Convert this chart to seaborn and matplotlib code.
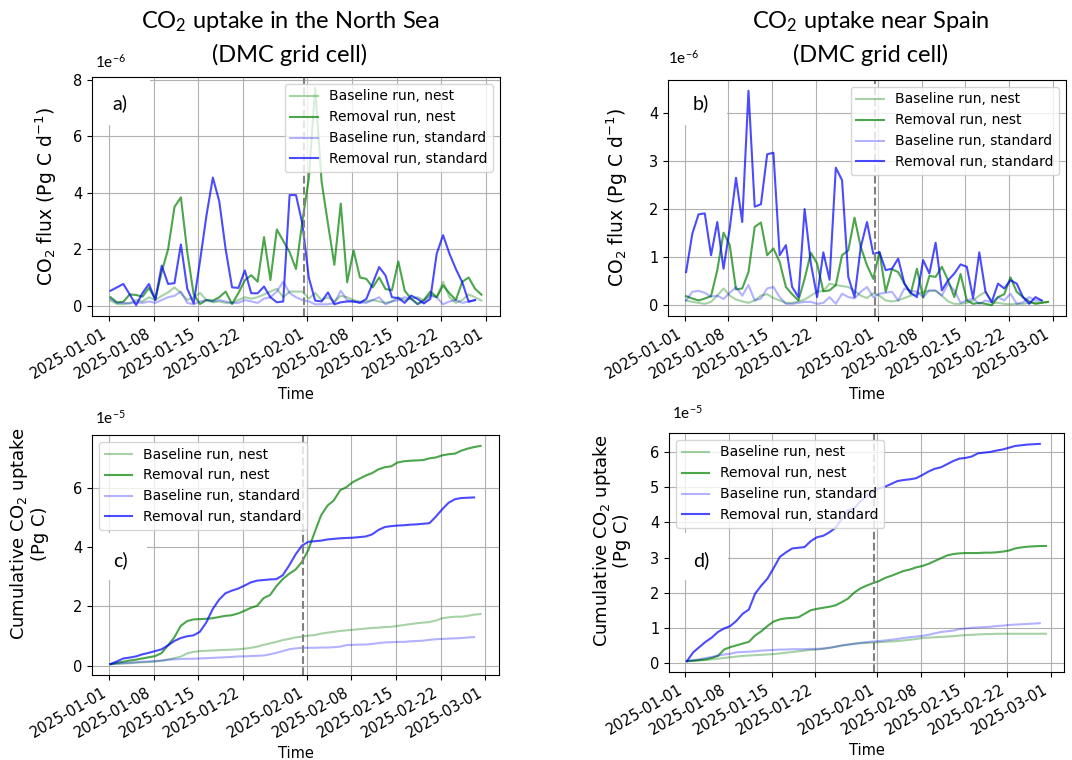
import pandas as pd
import matplotlib
matplotlib.use("Agg")
import matplotlib.pyplot as plt
import matplotlib.dates as mdates
from matplotlib.patches import Rectangle
import seaborn as sns

# ---- data ----
# flux values in 1e-6 Pg C / day, cumulative values in 1e-5 Pg C
flux_a_base_nest = [0.18, 0.06, 0.05, 0.1, 0.2, 0.15, 0.3, 0.2, 0.35, 0.47,
                    0.65, 0.45, 0.2, 0.3, 0.45, 0.2, 0.12, 0.15, 0.1, 0.1,
                    0.2, 0.3, 0.25, 0.3, 0.4, 0.5, 0.6, 0.3, 0.5, 0.5,
                    0.5, 0.25, 0.45, 0.2, 0.3, 0.15, 0.35, 0.3, 0.2, 0.15,
                    0.15, 0.2, 0.15, 0.1, 0.15, 0.3, 0.2, 0.25, 0.3, 0.2,
                    0.4, 0.3, 0.85, 0.3, 0.1, 0.2, 0.4, 0.3, 0.18]
flux_a_rem_nest = [0.30, 0.12, 0.14, 0.40, 0.38, 0.32, 0.63, 0.24, 1.2, 2.0,
                   3.5, 3.84, 1.9, 0.4, 0.06, 0.2, 0.18, 0.3, 0.5, 0.06,
                   0.45, 0.9, 1.08, 0.85, 2.43, 0.91, 2.7, 2.3, 1.9, 1.3,
                   3.0, 4.5, 7.72, 4.4, 2.9, 1.45, 3.62, 0.83, 1.96, 1.0,
                   0.95, 0.65, 1.0, 0.59, 0.55, 1.57, 0.53, 0.25, 0.06, 0.2,
                   0.5, 0.3, 0.72, 0.44, 0.2, 0.85, 1.0, 0.6, 0.39]
flux_a_base_std = [0.24, 0.1, 0.1, 0.08, 0.12, 0.1, 0.15, 0.1, 0.2, 0.3,
                   0.35, 0.5, 0.1, 0.05, 0.15, 0.2, 0.15, 0.2, 0.15, 0.1,
                   0.1, 0.2, 0.15, 0.1, 0.25, 0.3, 0.5, 0.85, 0.45, 0.3,
                   0.2, 0.15, 0.05, 0.05, 0.05, 0.1, 0.53, 0.2, 0.15, 0.12,
                   0.1, 0.2, 0.3, 0.05, 0.15, 0.2, 0.3, 0.25, 0.05, 0.15,
                   0.35, 0.3, 0.05, 0.15, 0.2, 0.1, 0.15, 0.2]
flux_a_rem_std = [0.53, 0.65, 0.77, 0.4, 0.02, 0.45, 0.77, 0.2, 1.42, 0.77,
                  0.8, 2.17, 0.6, 0.08, 1.6, 3.2, 4.54, 3.7, 2.0, 0.65,
                  0.63, 1.25, 0.44, 0.44, 0.68, 0.3, 0.12, 0.15, 3.92, 3.92,
                  2.9, 1.0, 0.18, 0.15, 0.47, 0.05, 0.12, 0.15, 0.15, 0.1,
                  0.24, 0.8, 1.37, 1.07, 0.3, 0.27, 0.1, 0.36, 0.24, 0.08,
                  0.24, 1.84, 2.5, 1.84, 1.3, 0.83, 0.14, 0.2]

flux_b_base_nest = [0.1, 0.07, 0.05, 0.03, 0.07, 0.2, 0.35, 0.2, 0.12, 0.08,
                    0.05, 0.1, 0.2, 0.23, 0.15, 0.1, 0.05, 0.05, 0.08, 0.12,
                    0.2, 0.28, 0.3, 0.45, 0.42, 0.4, 0.38, 0.3, 0.2, 0.15,
                    0.25, 0.2, 0.1, 0.08, 0.1, 0.15, 0.2, 0.23, 0.28, 0.3,
                    0.3, 0.2, 0.08, 0.03, 0.03, 0.05, 0.1, 0.2, 0.28, 0.05,
                    0.05, 0.03, 0.02, 0.03, 0.03, 0.05, 0.05, 0.06, 0.07]
flux_b_rem_nest = [0.19, 0.14, 0.1, 0.14, 0.19, 0.73, 1.51, 1.25, 0.33, 0.35,
                   0.69, 1.63, 1.72, 1.04, 1.18, 0.9, 0.38, 0.23, 0.1, 0.55,
                   1.09, 0.87, 0.29, 0.31, 0.42, 1.04, 1.14, 1.82, 1.21, 0.83,
                   0.55, 1.11, 0.28, 0.75, 0.69, 0.45, 0.24, 0.76, 0.16, 0.61,
                   0.59, 0.8, 0.52, 0.17, 0.65, 0.1, 0.03, 0.05, 0.03, 0.0,
                   0.17, 0.23, 0.58, 0.28, 0.17, 0.08, 0.03, 0.05, 0.07]
flux_b_base_std = [0.1, 0.28, 0.3, 0.26, 0.18, 0.2, 0.13, 0.26, 0.38, 0.2,
                   0.42, 0.1, 0.14, 0.35, 0.38, 0.17, 0.03, 0.03, 0.05, 0.07,
                   0.07, 0.03, 0.05, 0.17, 0.03, 0.24, 0.17, 0.14, 0.28, 0.38,
                   0.17, 0.24, 0.26, 0.28, 0.1, 0.35, 0.3, 0.28, 0.17, 0.31,
                   0.31, 0.2, 0.45, 0.31, 0.05, 0.1, 0.14, 0.03, 0.1, 0.06,
                   0.17, 0.1, 0.24, 0.03, 0.06, 0.17, 0.1, 0.1]
flux_b_rem_std = [0.69, 1.49, 1.89, 1.91, 1.04, 1.73, 0.76, 1.6, 2.65, 1.73,
                  4.46, 2.05, 2.1, 3.14, 3.17, 1.04, 1.25, 0.38, 0.17, 2.0,
                  0.87, 0.17, 1.1, 0.53, 2.86, 2.6, 0.59, 0.17, 1.21, 1.73,
                  1.07, 1.1, 0.73, 0.76, 0.97, 0.45, 0.26, 0.17, 0.94, 0.66,
                  1.3, 0.31, 0.52, 0.66, 0.85, 0.8, 0.15, 1.1, 0.28, 0.07,
                  0.45, 0.35, 0.52, 0.45, 0.17, 0.03, 0.17, 0.1]

cum_c_base_nest = [0.05, 0.06, 0.07, 0.08, 0.1, 0.11, 0.12, 0.14, 0.16, 0.2,
                   0.25, 0.3, 0.41, 0.46, 0.49, 0.5, 0.51, 0.52, 0.53, 0.54,
                   0.55, 0.57, 0.6, 0.64, 0.7, 0.75, 0.8, 0.86, 0.9, 0.95,
                   0.98, 1.01, 1.03, 1.08, 1.11, 1.14, 1.17, 1.19, 1.21, 1.23,
                   1.25, 1.27, 1.28, 1.3, 1.31, 1.34, 1.37, 1.4, 1.43, 1.45,
                   1.47, 1.52, 1.6, 1.63, 1.65, 1.65, 1.68, 1.72, 1.74]
cum_c_rem_nest = [0.05, 0.09, 0.13, 0.17, 0.2, 0.24, 0.28, 0.32, 0.42, 0.68,
                  0.95, 1.34, 1.5, 1.56, 1.57, 1.58, 1.6, 1.64, 1.68, 1.7,
                  1.76, 1.85, 1.95, 2.02, 2.28, 2.38, 2.68, 2.92, 3.1, 3.24,
                  3.5, 3.9, 4.5, 5.07, 5.4, 5.58, 5.92, 6.03, 6.2, 6.31,
                  6.42, 6.5, 6.63, 6.7, 6.73, 6.86, 6.9, 6.92, 6.93, 6.94,
                  7.0, 7.03, 7.1, 7.14, 7.16, 7.26, 7.33, 7.38, 7.42]
cum_c_base_std = [0.05, 0.07, 0.08, 0.1, 0.11, 0.13, 0.14, 0.15, 0.17, 0.2,
                  0.21, 0.22, 0.23, 0.23, 0.24, 0.25, 0.26, 0.27, 0.28, 0.29,
                  0.31, 0.31, 0.32, 0.33, 0.34, 0.38, 0.43, 0.49, 0.55, 0.58,
                  0.6, 0.6, 0.6, 0.61, 0.61, 0.62, 0.64, 0.69, 0.7, 0.71,
                  0.71, 0.73, 0.76, 0.78, 0.79, 0.8, 0.8, 0.82, 0.83, 0.84,
                  0.87, 0.89, 0.9, 0.91, 0.92, 0.93, 0.95, 0.96]
cum_c_rem_std = [0.05, 0.14, 0.24, 0.27, 0.31, 0.38, 0.43, 0.49, 0.55, 0.68,
                 0.83, 0.93, 0.99, 1.02, 1.14, 1.45, 1.9, 2.22, 2.44, 2.53,
                 2.6, 2.7, 2.81, 2.87, 2.89, 2.91, 2.92, 3.05, 3.38, 3.75,
                 4.05, 4.18, 4.2, 4.22, 4.26, 4.28, 4.3, 4.31, 4.32, 4.34,
                 4.36, 4.43, 4.58, 4.68, 4.71, 4.73, 4.74, 4.76, 4.77, 4.79,
                 4.81, 5.03, 5.28, 5.5, 5.62, 5.66, 5.67, 5.68]

cum_d_base_nest = [0.05, 0.06, 0.07, 0.08, 0.1, 0.12, 0.14, 0.16, 0.18, 0.2,
                   0.21, 0.22, 0.23, 0.24, 0.25, 0.27, 0.29, 0.31, 0.33, 0.35,
                   0.37, 0.38, 0.4, 0.43, 0.46, 0.49, 0.52, 0.55, 0.56, 0.57,
                   0.58, 0.59, 0.6, 0.61, 0.62, 0.64, 0.66, 0.68, 0.71, 0.72,
                   0.73, 0.74, 0.75, 0.76, 0.78, 0.79, 0.8, 0.81, 0.82, 0.82,
                   0.83, 0.83, 0.83, 0.83, 0.83, 0.83, 0.83, 0.83, 0.83]
cum_d_rem_nest = [0.05, 0.06, 0.08, 0.1, 0.14, 0.2, 0.38, 0.45, 0.5, 0.55,
                  0.6, 0.78, 0.9, 1.05, 1.18, 1.24, 1.27, 1.28, 1.3, 1.4,
                  1.5, 1.54, 1.57, 1.6, 1.64, 1.73, 1.83, 2.0, 2.12, 2.2,
                  2.27, 2.33, 2.42, 2.48, 2.55, 2.62, 2.66, 2.72, 2.76, 2.82,
                  2.9, 2.98, 3.06, 3.1, 3.12, 3.13, 3.13, 3.13, 3.14, 3.14,
                  3.15, 3.17, 3.2, 3.26, 3.29, 3.31, 3.32, 3.33, 3.33]
cum_d_base_std = [0.05, 0.08, 0.1, 0.14, 0.17, 0.21, 0.24, 0.26, 0.3, 0.31,
                  0.32, 0.33, 0.35, 0.36, 0.37, 0.38, 0.38, 0.39, 0.39, 0.39,
                  0.4, 0.4, 0.41, 0.43, 0.46, 0.5, 0.52, 0.54, 0.57, 0.59,
                  0.61, 0.62, 0.64, 0.66, 0.68, 0.71, 0.73, 0.75, 0.77, 0.8,
                  0.84, 0.88, 0.9, 0.92, 0.96, 0.98, 1.0, 1.01, 1.02, 1.03,
                  1.05, 1.06, 1.08, 1.09, 1.1, 1.11, 1.12, 1.13]
cum_d_rem_std = [0.05, 0.3, 0.45, 0.6, 0.72, 0.88, 0.98, 1.05, 1.2, 1.4,
                 1.52, 1.97, 2.2, 2.4, 2.7, 3.02, 3.15, 3.26, 3.28, 3.3,
                 3.47, 3.58, 3.62, 3.72, 3.85, 4.1, 4.35, 4.4, 4.6, 4.75,
                 4.9, 4.97, 5.02, 5.1, 5.18, 5.21, 5.23, 5.26, 5.35, 5.45,
                 5.53, 5.57, 5.66, 5.75, 5.82, 5.84, 5.88, 5.97, 5.99, 6.01,
                 6.05, 6.08, 6.13, 6.18, 6.2, 6.22, 6.23, 6.24]

series_names = ["Baseline run, nest", "Removal run, nest",
                "Baseline run, standard", "Removal run, standard"]
series_colors = ["green", "green", "blue", "blue"]
series_alpha = [0.35, 0.7, 0.3, 0.7]

start = pd.Timestamp("2025-01-01 06:00")
removal_day = pd.Timestamp("2025-01-31 12:00")

# ---- layout helpers (pixel boxes of the original figure) ----
W, H = 1072, 760


def px_box(l, t, r, b):
    return [l / W, 1 - b / H, (r - l) / W, (b - t) / H]


plt.rcParams['font.family'] = ['DejaVu Sans']
plt.rcParams['mathtext.rm'] = 'Lato'
plt.rcParams['mathtext.it'] = 'Lato:italic'
plt.rcParams['mathtext.bf'] = 'Lato:bold'
fig = plt.figure(figsize=(W / 100, H / 100), dpi=100)

panels = [
    dict(box=px_box(92, 77, 500, 316), data=[flux_a_base_nest, flux_a_rem_nest, flux_a_base_std, flux_a_rem_std],
         scale=1e-6, ylabel="CO$_2$ flux (Pg C d$^{-1}$)", yfs=13.5, lab="a)", loc="upper right",
         labbox=(0.142, 0.80, 0.2), labxy=(0.069, 0.891), ylc=(-0.082, 0.5), off=(95, 62, "1e$^{-6}$")),
    dict(box=px_box(668, 80, 1066, 316), data=[flux_b_base_nest, flux_b_rem_nest, flux_b_base_std, flux_b_rem_std],
         scale=1e-6, ylabel="CO$_2$ flux (Pg C d$^{-1}$)", yfs=13.5, lab="b)", loc="upper right",
         labbox=(0.148, 0.809, 0.191), labxy=(0.083, 0.903), ylc=(-0.095, 0.5), off=(668, 58, "1e$^{-6}$")),
    dict(box=px_box(92, 435, 499, 675), data=[cum_c_base_nest, cum_c_rem_nest, cum_c_base_std, cum_c_rem_std],
         scale=1e-5, ylabel="Cumulative CO$_2$ uptake\n(Pg C)", yfs=13, lab="c)", loc="upper left",
         labbox=(0.135, 0.396, 0.196), labxy=(0.069, 0.479), ylc=(-0.106, 0.59), off=(95, 418, "1e$^{-5}$")),
    dict(box=px_box(669, 433, 1064, 672), data=[cum_d_base_nest, cum_d_rem_nest, cum_d_base_std, cum_d_rem_std],
         scale=1e-5, ylabel="Cumulative CO$_2$ uptake\n(Pg C)", yfs=13, lab="d)", loc="upper left",
         labbox=(0.149, 0.385, 0.197), labxy=(0.081, 0.469), ylc=(-0.095, 0.55), off=(672, 413, "1e$^{-5}$")),
]

for p in panels:
    ax = fig.add_axes(p["box"])
    for vals, name, col, alp in zip(p["data"], series_names, series_colors, series_alpha):
        df = pd.DataFrame({"Time": pd.date_range(start, periods=len(vals), freq="D"),
                           "value": [v * p["scale"] for v in vals]})
        sns.lineplot(data=df, x="Time", y="value", color=col, alpha=alp,
                     linewidth=1.5, label=name, ax=ax)
    ax.axvline(removal_day, color="grey", linestyle="--", linewidth=1.5)
    ax.grid(True)
    ax.set_axisbelow(True)
    ax.xaxis.set_major_locator(mdates.DayLocator(bymonthday=[1, 8, 15, 22]))
    ax.xaxis.set_major_formatter(mdates.DateFormatter("%Y-%m-%d"))
    ax.tick_params(labelsize=10.5)
    plt.setp(ax.get_xticklabels(), rotation=30, ha="right")
    ax.set_xlabel("Time", fontsize=10.5)
    ax.set_ylabel(p["ylabel"], fontsize=p["yfs"], linespacing=1.05)
    ax.yaxis.set_label_coords(*p["ylc"])
    ax.yaxis.get_offset_text().set_visible(False)
    ax.legend(loc=p["loc"], fontsize=10)
    w, y0, h = p["labbox"]
    ax.add_patch(Rectangle((0, y0), w, h, transform=ax.transAxes,
                           facecolor="white", edgecolor="none", zorder=1.5))
    ax.text(*p["labxy"], p["lab"], transform=ax.transAxes, fontsize=14,
            family="Lato", ha="center", va="center", zorder=3)
    ox, oy, otxt = p["off"]
    fig.text(ox / W, 1 - oy / H, otxt, fontsize=11, family="Lato",
             math_fontfamily="custom", ha="left", va="center")

titles = [(290, "CO$_2$ uptake in the North Sea"), (871, "CO$_2$ uptake near Spain")]
for cx, t in titles:
    fig.text(cx / W, 1 - 22 / H, t, fontsize=17, family="Lato",
             math_fontfamily="custom", ha="center", va="center")
    fig.text(cx / W, 1 - 55 / H, "(DMC grid cell)", fontsize=17, family="Lato",
             ha="center", va="center")

fig.savefig("out.png", dpi=100)
